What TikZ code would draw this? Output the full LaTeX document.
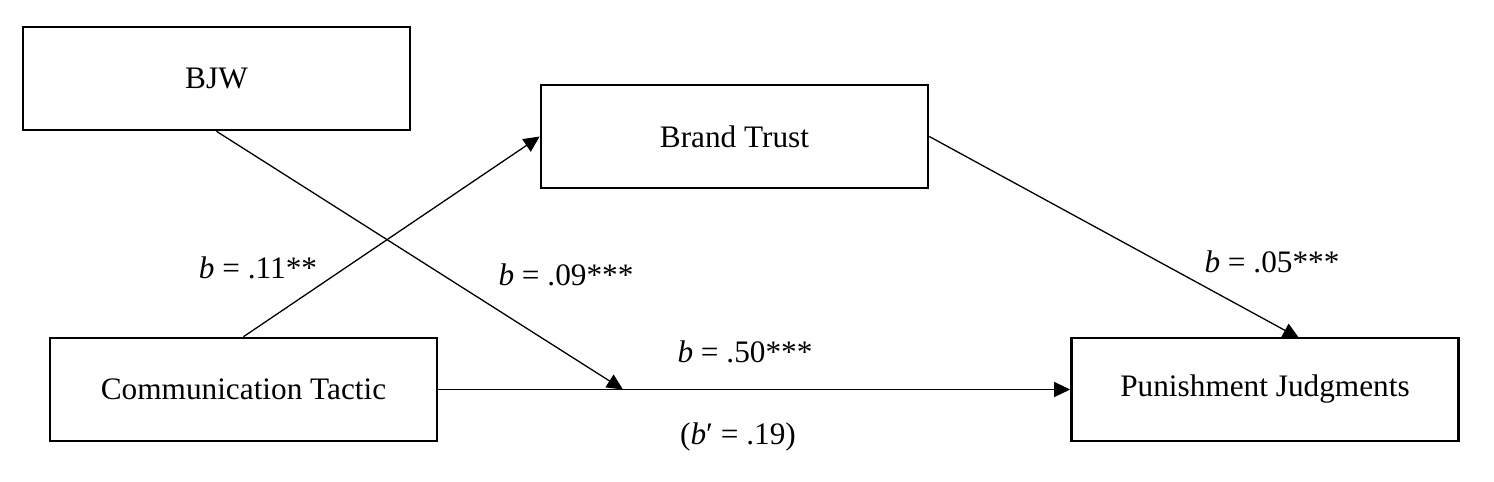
\documentclass[tikz,border=0pt]{standalone}
\usepackage{fontspec}
\setmainfont{Liberation Serif}
\usetikzlibrary{arrows.meta}
\tikzset{
  varbox/.style={draw, line width=0.026cm, minimum width=3.87cm, minimum height=1.03cm, inner sep=0pt},
  path/.style={line width=0.013cm, -{Triangle[length=0.16cm,width=0.15cm]}},
  coef/.style={inner sep=0pt}
}
\begin{document}
\begin{tikzpicture}
                            \useasboundingbox (0,0) rectangle (14.940000,4.810000);
                            {\fontsize{8.9}{10.5}\selectfont

                            % Marking box BJW
                            \node [varbox] (bjw) at (2.165000,4.025000) {BJW};%

                            % Marking box Brand Trust
                            \node [varbox] (trust) at (7.345000,3.445000) {Brand Trust};%

                            % Marking box Communication Tactic
                            \node [varbox] (tactic) at (2.435000,0.915000) {Communication Tactic};%

                            % Marking box Punishment Judgments
                            \node [varbox] (punish) at (12.650000,0.915000) {Punishment Judgments};%

                            % Points where arrows end
                            \coordinate (mod) at (6.230000,0.915000);%
                            \coordinate (punishtop) at (12.990000,1.430000);%

                            % Drawing path tactic trust
                            \draw [path] (tactic.north) -- (trust.west);%
                            \node [coef] (ctbt) at (2.580000,2.130000) {\textit{b} = .11**};%

                            % Drawing path bjw mod
                            \draw [path] (bjw.south) -- (mod);%
                            \node [coef] (bjwmod) at (5.660000,2.060000) {\textit{b} = .09***};%

                            % Drawing path trust punish
                            \draw [path] (trust.east) -- (punishtop);%
                            \node [coef] (btpj) at (12.720000,2.190000) {\textit{b} = .05***};%

                            % Drawing path tactic punish
                            \draw [path] (tactic.east) -- (punish.west);%
                            \node [coef] (ctpj) at (7.450000,1.290000) {\textit{b} = .50***};%
                            \node [coef] (ctpjd) at (7.380000,0.440000) {(\textit{b}′ = .19)};%
                            }
                        \end{tikzpicture}
\end{document}
